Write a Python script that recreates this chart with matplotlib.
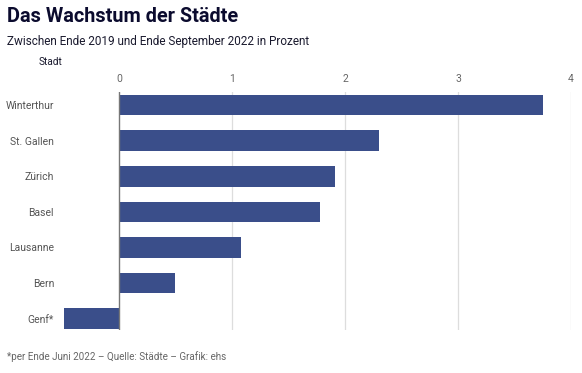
import matplotlib
matplotlib.use("Agg")
import matplotlib.pyplot as plt

cities = ["Winterthur", "St. Gallen", "Zürich", "Basel", "Lausanne", "Bern", "Genf*"]
growth = [3.75, 2.30, 1.91, 1.78, 1.08, 0.50, -0.49]
xticks = [0, 1, 2, 3, 4]

plt.rcParams['font.family'] = ['Roboto', 'DejaVu Sans']

fig = plt.figure(figsize=(5.82, 3.73), dpi=100)
ax = fig.add_axes([62.4/582, 1-330/373, (571-62.4)/582, (330-92)/373])

pos = list(range(len(cities)))
ax.barh(pos, growth, height=0.58, color="#3a4e8a", zorder=3)
ax.set_xlim(-0.5, 4)
ax.set_ylim(6.32, -0.37)
ax.set_xticks(xticks)
ax.set_xticklabels([str(t) for t in xticks])
ax.xaxis.tick_top()
ax.tick_params(axis='x', length=0, pad=6, labelsize=7.5, labelcolor="#666666")
ax.set_yticks(pos)
ax.set_yticklabels(cities)
ax.tick_params(axis='y', length=0, pad=6, labelsize=7.5, labelcolor="#555555")
for t in xticks:
    if t == 0:
        ax.axvline(t, color="#777777", lw=1.0, zorder=4)
    else:
        ax.axvline(t, color="#dddddd", lw=0.9, zorder=1)
for s in ax.spines.values():
    s.set_visible(False)

fig.text(7/582, 1-16/373, "Das Wachstum der Städte", fontsize=14.3, fontweight='bold',
         color="#0b0b2e", va='center', ha='left')
fig.text(7/582, 1-41/373, "Zwischen Ende 2019 und Ende September 2022 in Prozent", fontsize=8.5,
         color="#1a1a2e", va='center', ha='left')
fig.text(39/582, 1-62/373, "Stadt", fontsize=7.3, color="#1a1a2e", va='center', ha='left')
fig.text(7/582, 1-357/373, "*per Ende Juni 2022 – Quelle: Städte – Grafik: ehs", fontsize=7.1,
         color="#666666", va='center', ha='left')

fig.savefig("out.png", dpi=100)
